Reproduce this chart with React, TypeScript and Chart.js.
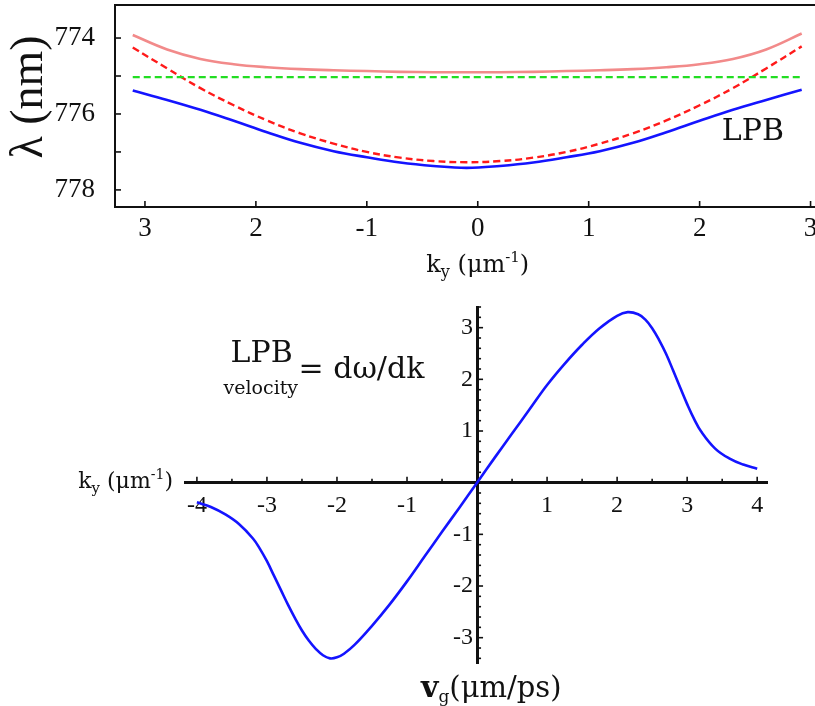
import React, { useEffect, useRef } from "react";
import { Chart, registerables } from "chart.js";
Chart.register(...registerables);

// ---------- Top panel: dispersion (wavelength vs k_y) ----------
const dispersionK = [-3.11, -2.8, -2.5, -2.2, -1.9, -1.6, -1.3, -1.0, -0.7, -0.4, -0.1, 0.2, 0.5, 0.8, 1.1, 1.4, 1.7, 2.0, 2.3, 2.6, 2.92];
const upperBranch = [773.92, 774.30, 774.55, 774.69, 774.77, 774.82, 774.85, 774.87, 774.89, 774.90, 774.90, 774.90, 774.89, 774.87, 774.85, 774.82, 774.77, 774.69, 774.55, 774.30, 773.88];
const cavityPhoton = [774.25, 774.80, 775.32, 775.77, 776.17, 776.51, 776.78, 777.00, 777.15, 777.24, 777.27, 777.24, 777.15, 777.00, 776.78, 776.51, 776.17, 775.77, 775.32, 774.80, 774.22];
const lowerBranch = [775.38, 775.63, 775.89, 776.18, 776.48, 776.76, 776.98, 777.14, 777.28, 777.37, 777.42, 777.37, 777.28, 777.14, 776.98, 776.76, 776.48, 776.18, 775.89, 775.63, 775.36];
const excitonK = [-3.11, 2.92];
const excitonLevel = [775.03, 775.03];
const dispXTicks = [-3, -2, -1, 0, 1, 2, 3];
const dispXTickLabels = ["3", "2", "-1", "0", "1", "2", "3"];
const dispYTicks = [774, 775, 776, 777, 778];
const dispYTickLabels = ["774", "", "776", "", "778"];
const lpbLabelAt = [2.2, 776.68];

// ---------- Bottom panel: group velocity ----------
const velK = [-4.0, -3.8, -3.6, -3.4, -3.2, -3.1, -3.0, -2.9, -2.8, -2.7, -2.6, -2.5, -2.4, -2.3, -2.2, -2.1, -2.0, -1.9, -1.75, -1.5, -1.25, -1.0, -0.75, -0.5, -0.25, 0, 0.25, 0.5, 0.75, 1.0, 1.25, 1.5, 1.75, 2.0, 2.15, 2.3, 2.4, 2.5, 2.6, 2.7, 2.8, 2.9, 3.0, 3.1, 3.2, 3.4, 3.6, 3.8, 4.0];
const groupVelocity = [-0.38, -0.47, -0.61, -0.80, -1.08, -1.28, -1.52, -1.80, -2.08, -2.36, -2.62, -2.86, -3.06, -3.22, -3.34, -3.40, -3.38, -3.31, -3.14, -2.77, -2.36, -1.91, -1.43, -0.95, -0.48, 0, 0.48, 0.95, 1.42, 1.89, 2.30, 2.67, 2.99, 3.23, 3.30, 3.26, 3.16, 2.99, 2.76, 2.49, 2.17, 1.84, 1.52, 1.23, 0.99, 0.66, 0.47, 0.35, 0.27];
const velXTicks = [-4, -3.5, -3, -2.5, -2, -1.5, -1, -0.5, 0.5, 1, 1.5, 2, 2.5, 3, 3.5, 4];
const velXTickLabels = ["-4", "", "-3", "", "-2", "", "-1", "", "", "1", "", "2", "", "3", "", "4"];
const velYTicks = [-3.4, -3.2, -3, -2.8, -2.6, -2.4, -2.2, -2, -1.8, -1.6, -1.4, -1.2, -1, -0.8, -0.6, -0.4, -0.2, 0.2, 0.4, 0.6, 0.8, 1, 1.2, 1.4, 1.6, 1.8, 2, 2.2, 2.4, 2.6, 2.8, 3, 3.2, 3.4];
const velYTickLabels = ["", "", "-3", "", "", "", "", "-2", "", "", "", "", "-1", "", "", "", "", "", "", "", "", "1", "", "", "", "", "2", "", "", "", "", "3", "", ""];
const velLabelAt = [-3.52, 2.33];

const INK = "#111";
const SERIF = '"Liberation Serif"';
const WIDE = '"DejaVu Serif"';

type Run = { text: string; font: string; dy: number };
function drawRuns(ctx: CanvasRenderingContext2D, runs: Run[], x: number, y: number, align: "left" | "center" | "right") {
  const widths = runs.map((r) => {
    ctx.font = r.font;
    return ctx.measureText(r.text).width;
  });
  const total = widths.reduce((a, b) => a + b, 0);
  let cx = align === "center" ? x - total / 2 : align === "right" ? x - total : x;
  ctx.textAlign = "left";
  ctx.textBaseline = "alphabetic";
  runs.forEach((r, i) => {
    ctx.font = r.font;
    ctx.fillText(r.text, cx, y + r.dy);
    cx += widths[i];
  });
}

function kyRuns(size: number): Run[] {
  return [
    { text: "k", font: `${size}px ${WIDE}`, dy: 0 },
    { text: "y", font: `${Math.round(size * 0.68)}px ${WIDE}`, dy: Math.round(size * 0.22) },
    { text: " (μm", font: `${size}px ${WIDE}`, dy: 0 },
    { text: "-1", font: `${Math.round(size * 0.62)}px ${WIDE}`, dy: -Math.round(size * 0.42) },
    { text: ")", font: `${size}px ${WIDE}`, dy: 0 },
  ];
}

function line(ctx: CanvasRenderingContext2D, x1: number, y1: number, x2: number, y2: number) {
  ctx.beginPath();
  ctx.moveTo(x1, y1);
  ctx.lineTo(x2, y2);
  ctx.stroke();
}

function topConfig(): any {
  const decorate = {
    id: "dispDecor",
    afterDraw(chart: any) {
      const { ctx, chartArea, scales } = chart;
      const xs = scales.x;
      const ys = scales.y;
      ctx.save();
      ctx.strokeStyle = INK;
      ctx.lineWidth = 1.6;
      xs.ticks.forEach((t: any) => {
        const px = xs.getPixelForValue(t.value);
        line(ctx, px, chartArea.bottom, px, chartArea.bottom - 6);
      });
      ys.ticks.forEach((t: any) => {
        const py = ys.getPixelForValue(t.value);
        line(ctx, chartArea.left, py, chartArea.left + 6, py);
      });
      ctx.fillStyle = INK;
      // y-axis title
      ctx.save();
      ctx.translate(chartArea.left - 85, (chartArea.top + chartArea.bottom) / 2 - 9);
      ctx.rotate(-Math.PI / 2);
      ctx.font = `46px ${SERIF}`;
      ctx.textAlign = "center";
      ctx.textBaseline = "middle";
      ctx.fillText("λ (nm)", 0, 0);
      ctx.restore();
      ctx.font = `30px ${WIDE}`;
      ctx.textAlign = "left";
      ctx.textBaseline = "alphabetic";
      ctx.fillText("LPB", xs.getPixelForValue(lpbLabelAt[0]), ys.getPixelForValue(lpbLabelAt[1]));
      drawRuns(ctx, kyRuns(24), xs.getPixelForValue(0), chartArea.bottom + 65, "center");
      ctx.restore();
    },
  };
  const pts = (xs: number[], ys: number[]) => xs.map((x, i) => ({ x, y: ys[i] }));
  return {
    type: "line",
    data: {
      datasets: [
        { data: pts(dispersionK, upperBranch), borderColor: "#f28a8a", borderWidth: 2.6, pointRadius: 0, fill: false, tension: 0.4 },
        { data: pts(excitonK, excitonLevel), borderColor: "#22dd22", borderWidth: 2.4, borderDash: [7, 4], pointRadius: 0, fill: false },
        { data: pts(dispersionK, cavityPhoton), borderColor: "#ff1a1a", borderWidth: 2.4, borderDash: [7, 4], pointRadius: 0, fill: false, tension: 0.4 },
        { data: pts(dispersionK, lowerBranch), borderColor: "#1414ff", borderWidth: 2.6, pointRadius: 0, fill: false, tension: 0.4 },
      ],
    },
    options: {
      responsive: false,
      animation: false,
      devicePixelRatio: 1,
      events: [],
      layout: { padding: { top: 5, right: 0, left: 0, bottom: 0 } },
      plugins: { legend: { display: false }, tooltip: { enabled: false } },
      scales: {
        x: {
          type: "linear",
          position: "bottom",
          min: -3.27,
          max: 3.04,
          afterBuildTicks: (s: any) => { s.ticks = dispXTicks.map((v) => ({ value: v })); },
          afterFit: (s: any) => { s.height = 83; s.paddingLeft = 0; s.paddingRight = 0; },
          grid: { display: false },
          border: { display: true, color: INK, width: 2 },
          ticks: {
            autoSkip: false,
            maxRotation: 0,
            padding: -2,
            color: INK,
            font: { family: SERIF, size: 27 },
            callback: (_v: any, i: number) => dispXTickLabels[i],
          },
        },
        xTop: {
          type: "linear",
          position: "top",
          afterFit: (s: any) => { s.height = 0; s.paddingLeft = 0; s.paddingRight = 0; },
          grid: { display: false },
          border: { display: true, color: INK, width: 2 },
          ticks: { display: false },
        },
        y: {
          type: "linear",
          position: "left",
          reverse: true,
          min: 773.13,
          max: 778.45,
          afterBuildTicks: (s: any) => { s.ticks = dispYTicks.map((v) => ({ value: v })); },
          afterFit: (s: any) => { s.width = 115; s.paddingTop = 0; s.paddingBottom = 0; },
          grid: { display: false },
          border: { display: true, color: INK, width: 2 },
          ticks: {
            autoSkip: false,
            padding: 12,
            color: INK,
            font: { family: SERIF, size: 27 },
            callback: (_v: any, i: number) => dispYTickLabels[i],
          },
        },
      },
    },
    plugins: [decorate],
  };
}

function bottomConfig(): any {
  const decorate = {
    id: "velDecor",
    afterDraw(chart: any) {
      const { ctx, chartArea, scales } = chart;
      const xs = scales.x;
      const ys = scales.y;
      const x0 = xs.getPixelForValue(0);
      const y0 = ys.getPixelForValue(0);
      ctx.save();
      ctx.strokeStyle = INK;
      ctx.lineWidth = 1.6;
      velXTicks.forEach((v, i) => {
        const px = xs.getPixelForValue(v);
        line(ctx, px, y0, px, y0 - (velXTickLabels[i] ? 6 : 4));
      });
      velYTicks.forEach((v, i) => {
        const py = ys.getPixelForValue(v);
        line(ctx, x0, py, x0 + (velYTickLabels[i] ? 6 : 4), py);
      });
      ctx.fillStyle = INK;
      // y tick labels, right-aligned just left of the axis line
      ctx.font = `24px ${SERIF}`;
      ctx.textAlign = "right";
      ctx.textBaseline = "middle";
      velYTicks.forEach((v, i) => {
        if (velYTickLabels[i]) ctx.fillText(velYTickLabels[i], x0 - 4, ys.getPixelForValue(v));
      });
      const lx = xs.getPixelForValue(velLabelAt[0]);
      const ly = ys.getPixelForValue(velLabelAt[1]);
      ctx.textAlign = "left";
      ctx.textBaseline = "alphabetic";
      ctx.font = `30px ${WIDE}`;
      ctx.fillText("LPB", lx, ly);
      ctx.font = `19px ${WIDE}`;
      ctx.fillText("velocity", lx - 7, ly + 32);
      ctx.font = `30px ${WIDE}`;
      ctx.fillText("= dω/dk", lx + 68, ly + 16);
      drawRuns(ctx, kyRuns(22), chartArea.left - 12, y0 + 5, "right");
      drawRuns(
        ctx,
        [
          { text: "v", font: `bold 30px ${WIDE}`, dy: 0 },
          { text: "g", font: `17px ${WIDE}`, dy: 5 },
          { text: "(μm/ps)", font: `29px ${WIDE}`, dy: 0 },
        ],
        x0 - 56,
        chartArea.bottom + 34,
        "left"
      );
      ctx.restore();
    },
  };
  return {
    type: "line",
    data: {
      datasets: [
        {
          data: velK.map((x, i) => ({ x, y: groupVelocity[i] })),
          borderColor: "#1414ff",
          borderWidth: 2.6,
          pointRadius: 0,
          fill: false,
          tension: 0.4,
        },
      ],
    },
    options: {
      responsive: false,
      animation: false,
      devicePixelRatio: 1,
      events: [],
      layout: { padding: { top: 17, right: 48, left: 185, bottom: 43 } },
      plugins: { legend: { display: false }, tooltip: { enabled: false } },
      scales: {
        x: {
          type: "linear",
          position: { y: 0 },
          min: -4.17,
          max: 4.14,
          afterBuildTicks: (s: any) => { s.ticks = velXTicks.map((v) => ({ value: v })); },
          grid: { display: false },
          border: { display: true, color: INK, width: 3 },
          ticks: {
            autoSkip: false,
            maxRotation: 0,
            padding: 1,
            color: INK,
            font: { family: SERIF, size: 24 },
            callback: (_v: any, i: number) => velXTickLabels[i],
          },
        },
        y: {
          type: "linear",
          position: { x: 0 },
          min: -3.49,
          max: 3.4,
          afterBuildTicks: (s: any) => { s.ticks = velYTicks.map((v) => ({ value: v })); },
          grid: { display: false },
          border: { display: true, color: INK, width: 3 },
          ticks: { display: false },
        },
      },
    },
    plugins: [decorate],
  };
}

export default function App() {
  const topRef = useRef<HTMLCanvasElement>(null);
  const botRef = useRef<HTMLCanvasElement>(null);
  useEffect(() => {
    let cancelled = false;
    const charts: Chart[] = [];
    const fontsReady = Promise.all([
      document.fonts.load('27px "Liberation Serif"'),
      document.fonts.load('30px "DejaVu Serif"'),
      document.fonts.load('bold 30px "DejaVu Serif"'),
    ]).catch(() => undefined);
    fontsReady.then(() => {
      if (cancelled || !topRef.current || !botRef.current) return;
      charts.push(new Chart(topRef.current, topConfig()));
      charts.push(new Chart(botRef.current, bottomConfig()));
    });
    return () => {
      cancelled = true;
      charts.forEach((c) => c.destroy());
    };
  }, []);
  return (
    <div style={{ position: "absolute", left: 0, top: 0, width: 815, height: 706, background: "#fff" }}>
      <canvas ref={topRef} width={815} height={290} style={{ position: "absolute", left: 0, top: 0, width: 815, height: 290 }} />
      <canvas ref={botRef} width={815} height={416} style={{ position: "absolute", left: 0, top: 290, width: 815, height: 416 }} />
    </div>
  );
}
